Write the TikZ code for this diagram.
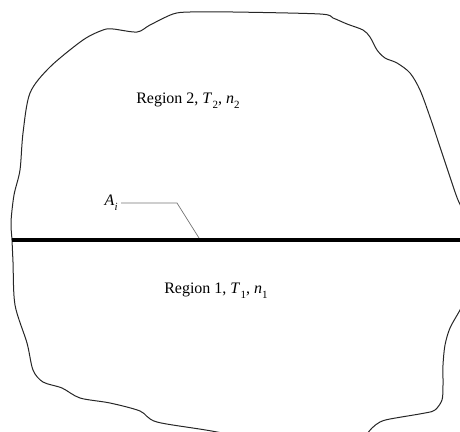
\documentclass[tikz,border=0pt]{standalone}
\usepackage{fontspec}
\setmainfont{Liberation Serif}
\newcommand\symsub[2]{\textit{#1}\kern0.2pt\raisebox{-0.3em}{\fontsize{11}{12}\selectfont #2}}
\begin{document}
\begin{tikzpicture}[x=1pt,y=-1pt,
  outline/.style={line width=1pt,draw=black!85,line join=round},
  iface/.style={line width=4pt,draw=black},
  leader/.style={line width=0.7pt,draw=black!55},
  lbl/.style={font=\fontsize{16}{18}\selectfont,inner sep=0pt}]
\useasboundingbox (0,0) rectangle (460,431);
\begin{scope}
\clip (0,0) rectangle (460,431);
\draw[outline] plot[smooth,tension=0.5] coordinates {
 (300,450) (217,432) (157,422) (140,411) (110,403) (80,398) (62,388) (43,382)
 (33,370) (27,343) (15,305) (13,262) (12,240) (11,222) (14,195) (20,170)
 (23,133) (30,93) (50,67) (83,40) (103,30) (113,29) (137,32) (150,25)
 (173,14) (190,12) (233,12) (320,14) (333,18) (347,24) (363,30) (370,37)
 (377,50) (385,58) (397,63) (410,73) (420,90) (430,117) (440,147) (450,177)
 (458,200) (468,220)};
\draw[outline] plot[smooth,tension=0.5] coordinates {
 (470,290) (460,310) (450,328) (445,345) (443,365) (443,385) (442,400)
 (435,410) (425,413) (390,419) (380,422) (372,428) (362,440)};
\end{scope}
\coordinate (ifL) at (12,240);
\coordinate (ifR) at (460,240);
\draw[iface] (ifL) -- (ifR);
\node[lbl] (r2) at (188,101) {Region 2, \symsub{T}{2}, \symsub{n}{2}};
\node[lbl] (r1) at (216,291) {Region 1, \symsub{T}{1}, \symsub{n}{1}};
\node[lbl,anchor=east] (ai) at (118,203) {\symsub{A}{\textit{i}}};
\coordinate (bend) at (177,203);
\coordinate (foot) at (199,238);
\draw[leader] (ai.east) ++(3,0) -- (bend) -- (foot);
\end{tikzpicture}
\end{document}
